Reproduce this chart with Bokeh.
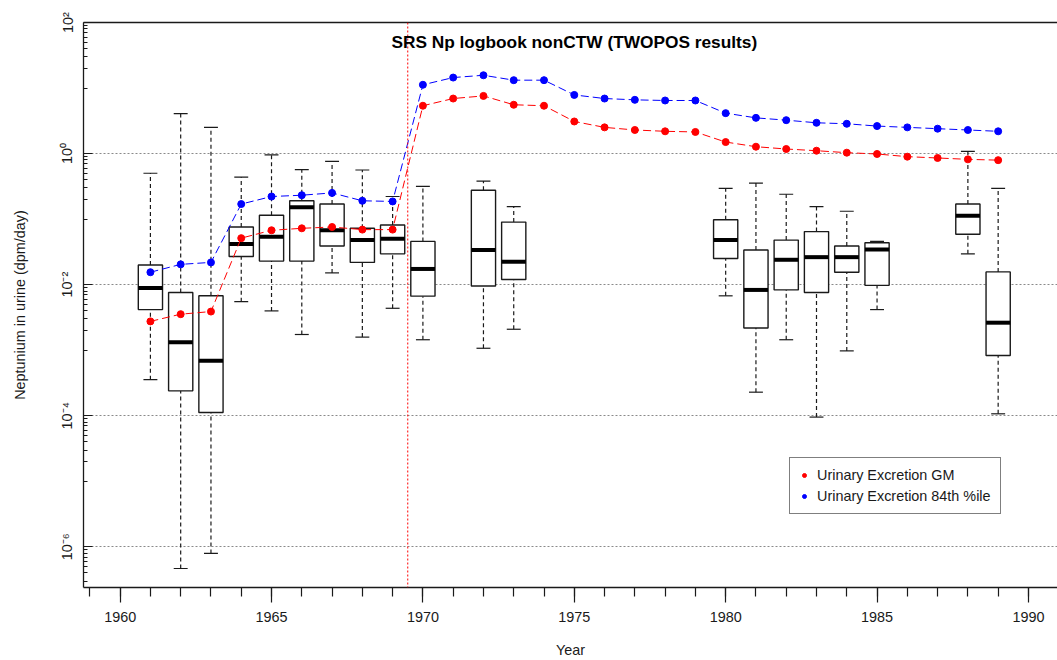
import numpy as np
import pandas as pd
from bokeh.plotting import figure
from bokeh.models import (FixedTicker, CustomJSTickFormatter, Span, Label, Legend,
                          LegendItem, LinearAxis, ColumnDataSource)
from bokeh.embed import file_html
from bokeh.resources import INLINE

# ---------------- data (stored as log10) ----------------
box_years = [1961, 1962, 1963, 1964, 1965, 1966, 1967, 1968, 1969, 1970,
             1972, 1973, 1980, 1981, 1982, 1983, 1984, 1985, 1988, 1989]
box_low_whisker_log10 = [-3.45, -6.33, -6.10, -2.26, -2.40, -2.76, -1.82, -2.80, -2.36, -2.84,
                         -2.97, -2.68, -2.17, -3.64, -2.84, -4.02, -3.01, -2.38, -1.53, -3.97]
box_q1_log10 = [-2.38, -3.62, -3.95, -1.57, -1.64, -1.64, -1.41, -1.66, -1.53, -2.175,
                -2.02, -1.92, -1.60, -2.66, -2.08, -2.12, -1.81, -2.01, -1.23, -3.08]
box_median_log10 = [-2.05, -2.88, -3.16, -1.38, -1.27, -0.82, -1.17, -1.32, -1.30, -1.76,
                    -1.47, -1.65, -1.32, -2.08, -1.62, -1.58, -1.58, -1.465, -0.95, -2.58]
box_q3_log10 = [-1.70, -2.12, -2.17, -1.12, -0.94, -0.72, -0.77, -1.14, -1.09, -1.34,
                -0.56, -1.045, -1.01, -1.47, -1.32, -1.19, -1.41, -1.36, -0.77, -1.805]
box_up_whisker_log10 = [-0.30, 0.61, 0.40, -0.36, -0.02, -0.245, -0.12, -0.25, -0.655, -0.50,
                        -0.42, -0.81, -0.53, -0.45, -0.62, -0.81, -0.88, -1.34, 0.033, -0.53]

series_years = list(range(1961, 1990))
gm_log10 = [-2.56, -2.45, -2.41, -1.29, -1.17, -1.14, -1.12, -1.16, -1.16, 0.73,
            0.84, 0.88, 0.745, 0.73, 0.49, 0.40, 0.36, 0.34, 0.33, 0.176,
            0.105, 0.07, 0.044, 0.014, -0.006, -0.047, -0.067, -0.088, -0.10]
p84_log10 = [-1.81, -1.69, -1.66, -0.77, -0.655, -0.635, -0.60, -0.72, -0.73, 1.05,
             1.16, 1.195, 1.12, 1.12, 0.895, 0.84, 0.82, 0.81, 0.81, 0.617,
             0.545, 0.51, 0.47, 0.455, 0.42, 0.40, 0.38, 0.36, 0.34]

x_major_ticks = [1960, 1965, 1970, 1975, 1980, 1985, 1990]
y_major_ticks = [1e-6, 1e-4, 1e-2, 1e0, 1e2]
cutoff_year = 1969.5

title_text = "SRS Np logbook nonCTW (TWOPOS results)"
legend_labels = ["Urinary Excretion GM", "Urinary Excretion 84th %ile"]

# ---------------- build sources ----------------
HALF_BOX = 0.4
HALF_CAP = 0.23
bx = pd.DataFrame(dict(
    year=box_years,
    lw=10 ** np.array(box_low_whisker_log10),
    q1=10 ** np.array(box_q1_log10),
    med=10 ** np.array(box_median_log10),
    q3=10 ** np.array(box_q3_log10),
    uw=10 ** np.array(box_up_whisker_log10),
))
bx["left"] = bx.year - HALF_BOX
bx["right"] = bx.year + HALF_BOX
bx["cl"] = bx.year - HALF_CAP
bx["cr"] = bx.year + HALF_CAP
bsrc = ColumnDataSource(bx)

ser = ColumnDataSource(dict(year=series_years,
                            gm=10 ** np.array(gm_log10),
                            p84=10 ** np.array(p84_log10)))

FONT = "Liberation Sans"
INK = "#1a1a1a"

p = figure(width=1049, height=660, y_axis_type="log", margin=(0, 0, 0, 8),
           x_range=(1958.79, 1990.96), y_range=(10 ** -6.62, 1e2),
           output_backend="svg", toolbar_location=None,
           min_border_left=0, min_border_right=0, min_border_top=22, min_border_bottom=70,
           background_fill_color="white", border_fill_color="white",
           outline_line_color=None)

# axes
p.xaxis.ticker = FixedTicker(ticks=x_major_ticks, minor_ticks=list(range(1959, 1991)))
minor_y = [k * 10.0 ** e for e in (-7, -5, -3, -1, 1) for k in range(1, 10)]
p.yaxis.ticker = FixedTicker(ticks=y_major_ticks, minor_ticks=minor_y)
p.yaxis.formatter = CustomJSTickFormatter(code="""
const e = Math.round(Math.log10(tick));
const m = {"-":"\u207b","0":"\u2070","1":"\u00b9","2":"\u00b2","3":"\u00b3","4":"\u2074",
           "5":"\u2075","6":"\u2076","7":"\u2077","8":"\u2078","9":"\u2079"};
return "10" + String(e).split("").map(c => m[c]).join("");
""")

for ax in (p.xaxis[0], p.yaxis[0]):
    ax.axis_line_color = INK
    ax.axis_line_width = 1.3
    ax.major_tick_line_color = INK
    ax.minor_tick_line_color = INK
    ax.major_tick_line_width = 1.2
    ax.minor_tick_line_width = 1.2
    ax.major_label_text_font = FONT
    ax.major_label_text_font_size = "14.4px"
    ax.major_label_text_color = INK
    ax.axis_label_text_font = FONT
    ax.axis_label_text_font_size = "14.4px"
    ax.axis_label_text_font_style = "normal"
    ax.axis_label_text_color = INK

xa = p.xaxis[0]
xa.major_tick_in = 0
xa.major_tick_out = 15
xa.minor_tick_in = 0
xa.minor_tick_out = 9
xa.major_label_standoff = 9
xa.axis_label = "Year"
xa.axis_label_standoff = 17

ya = p.yaxis[0]
ya.major_tick_in = 9
ya.major_tick_out = 0
ya.minor_tick_in = 4
ya.minor_tick_out = 0
ya.major_label_orientation = "parallel"
ya.major_label_standoff = 8
ya.axis_label = "Neptunium in urine (dpm/day)"
ya.axis_label_standoff = 29

top = LinearAxis(ticker=FixedTicker(ticks=[]), axis_line_color=INK, axis_line_width=1.5,
                 major_tick_out=0, major_tick_in=0, minor_tick_out=0, minor_tick_in=0,
                 major_label_standoff=0)
p.add_layout(top, "above")

# grid
p.xgrid.visible = False
p.ygrid.ticker = FixedTicker(ticks=y_major_ticks)
p.ygrid.grid_line_color = "#8a8a8a"
p.ygrid.grid_line_dash = "2 2"
p.ygrid.grid_line_width = 1

# boxplots
p.segment(x0="year", y0="q3", x1="year", y1="uw", source=bsrc,
          line_color=INK, line_dash="4 3", line_width=1.2)
p.segment(x0="year", y0="lw", x1="year", y1="q1", source=bsrc,
          line_color=INK, line_dash="4 3", line_width=1.2)
p.segment(x0="cl", y0="uw", x1="cr", y1="uw", source=bsrc, line_color=INK, line_width=1.2)
p.segment(x0="cl", y0="lw", x1="cr", y1="lw", source=bsrc, line_color=INK, line_width=1.2)
p.quad(left="left", right="right", top="q3", bottom="q1", source=bsrc,
       fill_color="white", line_color=INK, line_width=1.4)
p.segment(x0="left", y0="med", x1="right", y1="med", source=bsrc,
          line_color="black", line_width=4, line_cap="butt")

# cutoff line
p.add_layout(Span(location=cutoff_year, dimension="height", line_color="red",
                  line_dash="2 2", line_width=1))

# series
p.line(x="year", y="gm", source=ser, line_color="red", line_dash="8 4", line_width=1)
r_gm = p.scatter(x="year", y="gm", source=ser, size=7, fill_color="red", line_color="red")
p.line(x="year", y="p84", source=ser, line_color="blue", line_dash="8 4", line_width=1)
r_p84 = p.scatter(x="year", y="p84", source=ser, size=7, fill_color="blue", line_color="blue")

# title inside plot
p.add_layout(Label(x=1975.0, y=50.0, text=title_text, text_align="center",
                   text_baseline="middle", text_font=FONT, text_font_style="bold",
                   text_font_size="17.3px", text_color="black"))

legend = Legend(items=[LegendItem(label=legend_labels[0], renderers=[r_gm]),
                       LegendItem(label=legend_labels[1], renderers=[r_p84])],
                location=(706, 73), border_line_color="black", border_line_width=1,
                background_fill_color="white", background_fill_alpha=1.0,
                label_text_font=FONT, label_text_font_size="14.4px", label_text_color=INK,
                glyph_width=10, glyph_height=14, label_height=14, spacing=5,
                padding=9, margin=0, label_standoff=8)
p.add_layout(legend)

with open("out.html", "w", encoding="utf-8") as f:
    f.write(file_html(p, INLINE))
